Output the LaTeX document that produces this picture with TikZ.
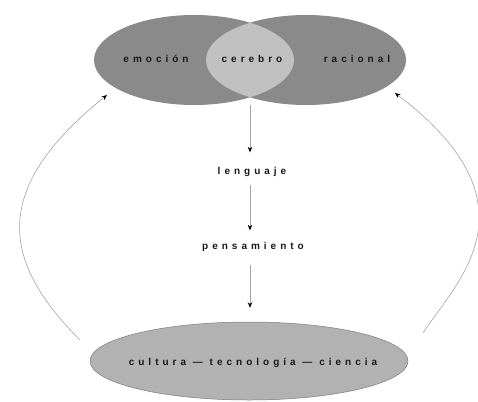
\documentclass[tikz,border=0pt]{standalone}
\usepackage{fontspec}
\setmainfont{Liberation Sans}
\newfontfamily\lblfont[LetterSpace=40]{Liberation Sans Bold}
\usetikzlibrary{shapes.geometric,arrows.meta}
\definecolor{darkell}{RGB}{138,138,138}
\definecolor{lensc}{RGB}{192,192,192}
\definecolor{botell}{RGB}{178,178,178}
\definecolor{botedge}{RGB}{125,125,125}
\definecolor{linec}{RGB}{165,165,165}
\definecolor{txt}{RGB}{25,25,25}
\tikzset{
  lbl/.style={font=\lblfont\fontsize{10}{11}\selectfont, text=txt, inner sep=0pt, text height=7pt, text depth=2pt},
  arr/.style={draw=linec, line width=0.6pt, -{Stealth[length=5.5pt,width=4.5pt,black]}},
  topell/.style={ellipse, fill=darkell, minimum width=200pt, minimum height=90pt, inner sep=0pt},
}
\begin{document}
\begin{tikzpicture}[x=1pt,y=-1pt]
\useasboundingbox[fill=white] (0,0) rectangle (478,401);
% top ellipses
\node[topell] (emo) at (194,60) {};
\node[topell] (rac) at (306,60) {};
\begin{scope}
  \clip (194,60) ellipse [x radius=100, y radius=45];
  \fill[lensc] (306,60) ellipse [x radius=100, y radius=45];
\end{scope}
\node[lbl] (emot) at (156,60) {emoción};
\node[lbl] (cer) at (252,60) {cerebro};
\node[lbl] (ract) at (357,60) {racional};
% bottom ellipse
\node[ellipse, fill=botell, draw=botedge, line width=0.5pt, minimum width=318pt, minimum height=78pt, inner sep=0pt] (cul) at (249,361) {};
\node[lbl] (cult) at (253,363) {cultura — tecnología — ciencia};
% middle
\node[lbl] (len) at (252,172) {lenguaje};
\node[lbl] (pen) at (253,247) {pensamiento};
\coordinate (cb) at (250,105);
\coordinate (m1) at (250,185);
\coordinate (m2) at (250,265);
\draw[arr, shorten >=15pt] (cb) -- (cb |- len.north);
\draw[arr, shorten >=12pt] (m1) -- (m1 |- pen.north);
\draw[arr, shorten >=14pt] (m2) -- (m2 |- cul.north);
% curved arrows
\coordinate (ls) at (80,340);
\coordinate (le) at (107,95);
\coordinate (rs) at (423,333);
\coordinate (re) at (395,93);
\draw[arr] (ls) .. controls (1,261) and (-10,189) .. (le);
\draw[arr] (rs) .. controls (456,282) and (543,205) .. (re);
\end{tikzpicture}
\end{document}
